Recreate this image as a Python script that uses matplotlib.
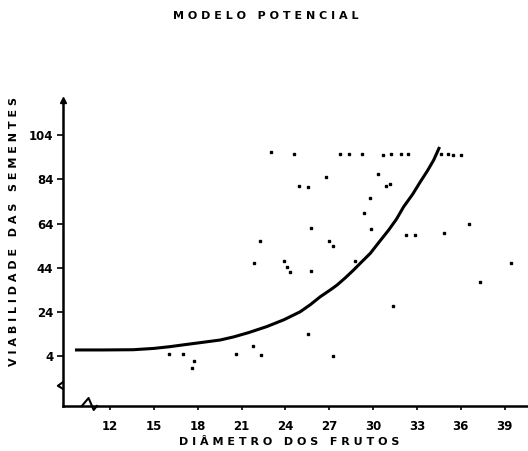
import matplotlib
matplotlib.use("Agg")
import matplotlib.pyplot as plt

# observed points (diameter, viability)
diam = [16.04, 16.97, 17.75, 17.62, 20.61, 21.77, 22.36, 25.53, 27.23, 31.34,
        37.34, 39.47, 21.86, 23.87, 24.12, 24.29, 25.77, 28.79, 22.29, 26.95,
        27.23, 32.22, 32.86, 34.83, 36.54, 25.77, 29.86, 29.41, 29.77, 24.95,
        25.53, 30.85, 31.18, 26.75, 30.34, 23.03, 24.62, 27.73, 28.36, 29.25,
        30.65, 31.23, 31.93, 32.41, 34.68, 35.10, 35.49, 36.03]
viab = [4.9, 4.9, 1.5, -1.3, 4.9, 8.4, 4.5, 14.1, 3.8, 26.5,
        37.3, 46.3, 45.9, 46.9, 44.2, 42.0, 42.7, 47.2, 55.9, 56.3,
        53.8, 58.8, 58.9, 59.9, 63.7, 61.8, 61.5, 68.6, 75.7, 80.9,
        80.7, 80.9, 82.1, 85.1, 86.6, 96.2, 95.6, 95.6, 95.4, 95.4,
        95.2, 95.4, 95.3, 95.3, 95.4, 95.4, 95.0, 95.0]

# fitted power model
curve_x = [9.60, 11.5, 13.58, 15.0, 16.11, 17.0, 18.16, 19.53, 20.45, 21.5,
           22.73, 23.9, 25.01, 25.7, 26.38, 27.07, 27.53, 28.1, 28.66, 29.2,
           29.81, 30.4, 31.06, 31.6, 32.09, 32.7, 33.23, 33.7, 34.14, 34.55]
curve_y = [6.7, 6.7, 6.8, 7.4, 8.2, 9.0, 10.0, 11.2, 12.6, 14.6,
           17.3, 20.4, 24.0, 27.2, 30.8, 33.9, 36.1, 39.4, 42.9, 46.5,
           50.5, 55.5, 61.0, 66.0, 71.6, 77.2, 82.9, 87.7, 92.7, 98.7]

xticks = [12, 15, 18, 21, 24, 27, 30, 33, 36, 39]
yticks = [4, 24, 44, 64, 84, 104]


def spaced(s, gap=" "):
    return "   ".join(gap.join(w) for w in s.split(" "))


fig = plt.figure(figsize=(5.28, 4.51), dpi=100)
ax = fig.add_axes([0.1193, 0.0998, 0.8807, 0.6785])

ax.plot(diam, viab, "s", color="black", markersize=1.8)
ax.plot(curve_x, curve_y, color="black", lw=2.2, solid_capstyle="butt",
        solid_joinstyle="round")

ax.set_xlim(8.78, 40.6)
ax.set_ylim(-18.7, 120)
ax.set_xticks(xticks)
ax.set_yticks(yticks)
ax.set_xticklabels([str(t) for t in xticks], fontsize=8.5, fontweight="bold")
ax.set_yticklabels([str(t) for t in yticks], fontsize=8.5, fontweight="bold")
ax.tick_params(axis="x", direction="out", length=3, width=1.2, pad=7)
ax.tick_params(axis="y", direction="out", length=4, width=1.2, pad=3)

for s in ["top", "right"]:
    ax.spines[s].set_visible(False)
for s in ["left", "bottom"]:
    ax.spines[s].set_linewidth(1.8)

# arrow on top of y axis
ax.plot(0, 1, "^", color="black", markersize=5, transform=ax.transAxes,
        clip_on=False)
# axis break marks
ax.plot([0.0405, 0.055, 0.066, 0.073], [0.0, 0.026, -0.013, 0.0], color="black",
        lw=1.5, transform=ax.transAxes, clip_on=False)
ax.plot([0.0, -0.011, 0.0], [0.078, 0.066, 0.056], color="black",
        lw=1.5, transform=ax.transAxes, clip_on=False)

fig.text(0.504, 1 - 16 / 451, spaced("MODELO POTENCIAL"), ha="center",
         va="center", fontsize=8, fontweight="bold")
fig.text(14 / 528, 1 - 232 / 451, spaced("VIABILIDADE DAS SEMENTES"),
         rotation=90, ha="center", va="center", fontsize=8, fontweight="bold")
fig.text(289 / 528, 1 - 442 / 451, spaced("DIÂMETRO DOS FRUTOS"),
         ha="center", va="center", fontsize=8, fontweight="bold")

fig.savefig("out.png", dpi=100)
